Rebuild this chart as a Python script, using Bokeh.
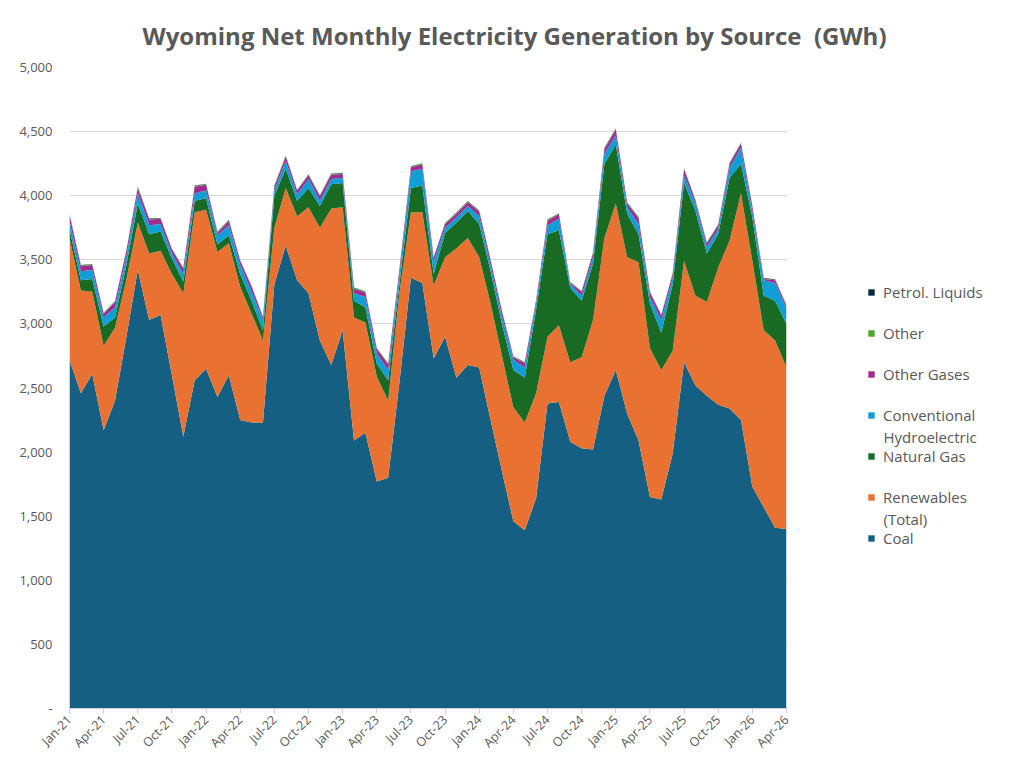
from bokeh.plotting import figure
from bokeh.models import (ColumnDataSource, FixedTicker, NumeralTickFormatter,
                          Legend, LegendItem, Label, BoxAnnotation)
from bokeh.embed import file_html
from bokeh.resources import INLINE

# ---- data (GWh), Jan-21 .. Apr-26 ----
months = list(range(64))
tick_positions = list(range(0, 64, 3))
tick_labels = ["Jan-21", "Apr-21", "Jul-21", "Oct-21", "Jan-22", "Apr-22", "Jul-22",
               "Oct-22", "Jan-23", "Apr-23", "Jul-23", "Oct-23", "Jan-24", "Apr-24",
               "Jul-24", "Oct-24", "Jan-25", "Apr-25", "Jul-25", "Oct-25", "Jan-26",
               "Apr-26"]

coal = [2720, 2460, 2610, 2170, 2400, 2900, 3420, 3030, 3070, 2600, 2120, 2560,
        2650, 2430, 2600, 2250, 2230, 2230, 3310, 3610, 3340, 3240, 2870, 2680,
        2950, 2090, 2150, 1770, 1800, 2550, 3360, 3320, 2730, 2900, 2580, 2680,
        2660, 2250, 1850, 1460, 1390, 1640, 2380, 2390, 2080, 2030, 2020, 2440,
        2640, 2300, 2090, 1650, 1630, 1990, 2700, 2520, 2440, 2370, 2340, 2250,
        1730, 1570, 1410, 1400]
renewables = [950, 800, 640, 660, 570, 450, 370, 520, 500, 790, 1120, 1310,
              1240, 1130, 1030, 1040, 850, 640, 440, 450, 500, 670, 880, 1220,
              960, 960, 860, 820, 600, 700, 510, 550, 570, 620, 1010, 990,
              860, 910, 900, 890, 840, 820, 520, 600, 620, 710, 1010, 1230,
              1300, 1220, 1390, 1160, 1010, 800, 790, 700, 730, 1070, 1310, 1770,
              1760, 1380, 1460, 1260]
natural_gas = [70, 80, 100, 150, 80, 110, 150, 150, 150, 120, 90, 90,
               90, 60, 60, 100, 100, 80, 250, 150, 120, 150, 170, 190,
               190, 130, 120, 100, 160, 70, 190, 210, 90, 190, 200, 210,
               260, 250, 250, 290, 350, 650, 800, 740, 580, 440, 440, 580,
               460, 340, 220, 350, 290, 520, 610, 660, 380, 260, 490, 230,
               340, 270, 310, 340]
hydro = [60, 70, 70, 70, 80, 70, 80, 70, 60, 40, 60, 60,
         60, 70, 80, 70, 70, 80, 40, 60, 50, 70, 40, 40,
         40, 60, 80, 80, 80, 70, 130, 130, 90, 40, 40, 40,
         60, 50, 60, 80, 80, 50, 70, 90, 30, 40, 50, 80,
         70, 50, 80, 50, 100, 50, 60, 60, 50, 40, 80, 120,
         50, 120, 140, 120]
other_gases = [50, 40, 40, 30, 40, 40, 40, 45, 40, 30, 40, 50,
               45, 20, 35, 30, 40, 20, 30, 35, 30, 30, 35, 35,
               30, 35, 35, 35, 45, 40, 30, 35, 35, 30, 30, 30,
               35, 35, 35, 20, 35, 20, 35, 35, 10, 30, 30, 35,
               45, 30, 45, 35, 35, 30, 45, 20, 30, 30, 30, 35,
               35, 10, 20, 20]
other = [6, 6, 5, 5, 6, 6, 6, 6, 5, 5, 5, 6,
         6, 5, 5, 5, 6, 6, 6, 6, 5, 5, 5, 6,
         6, 5, 5, 5, 6, 6, 6, 6, 5, 5, 5, 6,
         6, 5, 5, 5, 6, 6, 6, 6, 5, 5, 5, 6,
         6, 5, 5, 5, 6, 6, 6, 6, 5, 5, 5, 6,
         6, 5, 5, 5]
petrol_liquids = [3, 3, 3, 2, 2, 2, 3, 3, 2, 2, 3, 3,
                  3, 3, 3, 2, 2, 2, 3, 3, 2, 2, 3, 3,
                  3, 3, 3, 2, 2, 2, 3, 3, 2, 2, 3, 3,
                  3, 3, 3, 2, 2, 2, 3, 3, 2, 2, 3, 3,
                  3, 3, 3, 2, 2, 2, 3, 3, 2, 2, 3, 3,
                  3, 3, 3, 2]

# legend names: first line / second line
series_first = ["Coal", "Renewables", "Natural Gas", "Conventional",
                "Other Gases", "Other", "Petrol. Liquids"]
series_second = ["", "(Total)", "", "Hydroelectric", "", "", ""]
series_keys = ["coal", "renew", "gas", "hydro", "ogas", "other", "petrol"]
colors = ["#156082", "#e97132", "#196b24", "#0f9ed5", "#a02b93", "#4ea72e",
          "#0e2841"]

source = ColumnDataSource(dict(x=months, coal=coal, renew=renewables,
                               gas=natural_gas, hydro=hydro, ogas=other_gases,
                               other=other, petrol=petrol_liquids))

GRAY = "#595959"
FONT = "Open Sans"

# layout (pixels)
W, H = 1020, 765
F_LEFT, F_TOP, F_BOTTOM = 69, 67, 708      # frame edges on the page
DATA_RIGHT = 786                            # x of the last month
F_RIGHT = W - 8                             # frame extends under the legend
n_last = months[-1]
x_end = n_last * (F_RIGHT - F_LEFT) / (DATA_RIGHT - F_LEFT)

p = figure(width=W, height=H, output_backend="svg", toolbar_location=None,
           x_range=(0, x_end), y_range=(0, 5000),
           min_border_left=F_LEFT, min_border_right=W - F_RIGHT,
           min_border_top=F_TOP, min_border_bottom=H - F_BOTTOM,
           border_fill_color="white", outline_line_color=None)

renderers = p.varea_stack(stackers=series_keys, x="x", color=colors,
                          source=source)

# blank out grid lines to the right of the data (legend area)
p.add_layout(BoxAnnotation(left=n_last, fill_color="white", fill_alpha=1,
                           line_color=None))

# title
p.title.text = "Wyoming Net Monthly Electricity Generation by Source\u00a0\u00a0(GWh)"
p.title.text_font = FONT
p.title.text_font_style = "bold"
p.title.text_font_size = "24px"
p.title.text_color = GRAY
p.title.align = "left"
p.title.vertical_align = "middle"
p.title.offset = 73
p.title.standoff = 30

# axes
p.yaxis.ticker = FixedTicker(ticks=list(range(0, 5001, 500)))
p.yaxis.formatter = NumeralTickFormatter(format="0,0")
p.yaxis.major_label_overrides = {0: "-"}
p.yaxis.axis_line_color = None
p.yaxis.major_tick_line_color = None
p.yaxis.major_tick_out = 0
p.yaxis.major_tick_in = 0
p.yaxis.minor_tick_line_color = None
p.yaxis.major_label_standoff = 17
p.yaxis.major_label_text_font = FONT
p.yaxis.major_label_text_font_size = "13px"
p.yaxis.major_label_text_color = GRAY

p.xaxis.ticker = FixedTicker(ticks=tick_positions)
p.xaxis.bounds = (0, n_last)
p.xaxis.major_label_overrides = {t: l for t, l in zip(tick_positions, tick_labels)}
p.xaxis.major_label_orientation = 0.785398
p.xaxis.axis_line_color = "#c9d3dc"
p.xaxis.major_tick_line_color = "#c9d3dc"
p.xaxis.major_tick_out = 5
p.xaxis.major_tick_in = 0
p.xaxis.minor_tick_line_color = None
p.xaxis.major_label_standoff = 4
p.xaxis.major_label_text_font = FONT
p.xaxis.major_label_text_font_size = "12.5px"
p.xaxis.major_label_text_color = GRAY

p.xgrid.grid_line_color = None
p.ygrid.grid_line_color = "#d9d9d9"
p.ygrid.grid_line_width = 1

# legend (top entry = top of stack)
LEG_X = 867 - F_LEFT          # glyph left, relative to frame left
LEG_TOP = 282                 # page y of first item top
ITEM_H, GAP = 20, 21
n = len(series_first)
leg_h = n * ITEM_H + (n - 1) * GAP
items = [LegendItem(label=series_first[i], renderers=[renderers[i]])
         for i in reversed(range(n))]
legend = Legend(items=items, location=(LEG_X, F_BOTTOM - (LEG_TOP + leg_h)),
                orientation="vertical",
                label_text_font=FONT, label_text_font_size="15px",
                label_text_color=GRAY, glyph_width=8, glyph_height=8,
                label_height=ITEM_H, label_standoff=8, spacing=GAP, padding=0,
                margin=0, border_line_color=None, background_fill_alpha=0)
p.add_layout(legend)

# second lines of the two-line legend names
for rank, i in enumerate(reversed(range(n))):
    if series_second[i]:
        line2_y = LEG_TOP + rank * (ITEM_H + GAP) + ITEM_H / 2 + 21
        p.add_layout(Label(x=LEG_X + 16, y=F_BOTTOM - line2_y,
                           x_units="screen", y_units="screen",
                           text=series_second[i], text_font=FONT,
                           text_font_size="15px", text_color=GRAY,
                           text_baseline="middle", text_align="left"))

open("out.html", "w").write(file_html(p, INLINE))
